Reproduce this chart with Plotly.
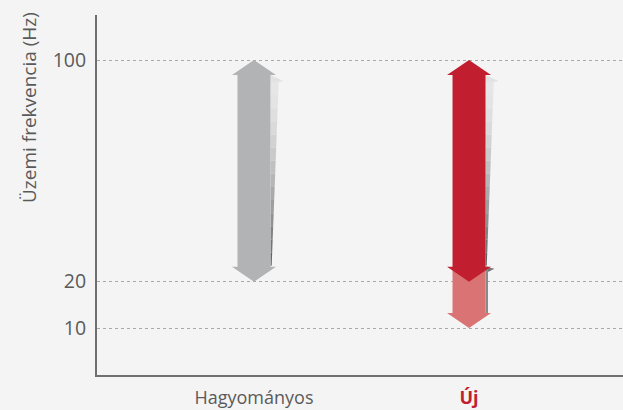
import plotly.graph_objects as go

# Operating frequency ranges (Hz)
categories = ["Hagyományos", "Új"]
range_low = [20, 10]        # lowest operating frequency
range_high = [100, 100]     # highest operating frequency
split_value = 20            # upper part of the new range shown in dark red
tick_values = [10, 20, 100]
tick_labels = ["10", "20", "100"]

GREY = "#b2b3b5"
RED = "#c11f2f"
LIGHT_RED = "#da7373"
BG = "#f4f4f4"
TEXT = "#5a5a5a"


def t(v):
    """Compressed frequency scale used on the vertical axis."""
    return v ** 0.6


# Axis geometry (x in category units, y in scaled units)
X_RANGE = [-0.730, 1.716]
Y_RANGE = [1.900, 17.842]
PX_X = 526 / (X_RANGE[1] - X_RANGE[0])
PX_Y = 360 / (Y_RANGE[1] - Y_RANGE[0])

HEAD_H = 15 / PX_Y
SHAFT_HW = 16.5 / PX_X
HEAD_HW = 22 / PX_X


def double_arrow(c, lo, hi):
    xs = [c, c + HEAD_HW, c + SHAFT_HW, c + SHAFT_HW, c + HEAD_HW, c,
          c - HEAD_HW, c - SHAFT_HW, c - SHAFT_HW, c - HEAD_HW, c]
    ys = [hi, hi - HEAD_H, hi - HEAD_H, lo + HEAD_H, lo + HEAD_H, lo,
          lo + HEAD_H, lo + HEAD_H, hi - HEAD_H, hi - HEAD_H, hi]
    return xs, ys


def down_arrow(c, top, lo):
    xs = [c - SHAFT_HW, c + SHAFT_HW, c + SHAFT_HW, c + HEAD_HW, c,
          c - HEAD_HW, c - SHAFT_HW, c - SHAFT_HW]
    ys = [top, top, lo + HEAD_H, lo + HEAD_H, lo, lo + HEAD_H, lo + HEAD_H, top]
    return xs, ys


def poly(xs, ys, color):
    return go.Scatter(x=xs, y=ys, mode="lines", fill="toself", fillcolor=color,
                      line=dict(width=0), hoverinfo="skip", showlegend=False)


def shade(level):
    v = int(round(level))
    return f"rgb({v},{v},{v})"


def shadow(c, hi, lo_edge):
    """Tapered side shading to the right of an arrow shaft."""
    traces = []
    x0 = c + SHAFT_HW
    top = hi - HEAD_H
    # ledge under the right wing of the head
    traces.append(poly([x0, x0 + 13 / PX_X, x0 + 7 / PX_X, x0, x0],
                       [top, top - 6 / PX_Y, top - 7 / PX_Y, top - 7 / PX_Y, top],
                       "#e2e2e2"))
    start = top - 7 / PX_Y
    n = 14
    w0 = 7 / PX_X
    for i in range(n):
        ya = start - (start - lo_edge) * i / n
        yb = start - (start - lo_edge) * (i + 1) / n
        wa = w0 * (1 - i / n) + 1.2 / PX_X
        wb = w0 * (1 - (i + 1) / n) + 1.2 / PX_X
        col = shade(230 - 130 * (i / (n - 1)) ** 1.6)
        traces.append(poly([x0, x0 + wa, x0 + wb, x0, x0],
                           [ya, ya, yb, yb, ya], col))
    return traces


fig = go.Figure()

# Conventional range: grey double arrow
c0 = 0
hi0, lo0 = t(range_high[0]), t(range_low[0])
for tr in shadow(c0, hi0, lo0 + HEAD_H + 1 / PX_Y):
    fig.add_trace(tr)
fig.add_trace(poly(*double_arrow(c0, lo0, hi0), GREY))

# New range: dark red upper part plus light red extension down to the minimum
c1 = 1
hi1, mid1, lo1 = t(range_high[1]), t(split_value), t(range_low[1])
for tr in shadow(c1, hi1, mid1 + HEAD_H + 1 / PX_Y):
    fig.add_trace(tr)
# small ledge and edge line beside the extension
x_edge = c1 + SHAFT_HW
fig.add_trace(poly([x_edge, x_edge + 9 / PX_X, x_edge + 3 / PX_X, x_edge, x_edge],
                   [mid1 + HEAD_H, mid1 + HEAD_H - 2 / PX_Y, mid1 + HEAD_H - 5 / PX_Y,
                    mid1 + HEAD_H - 5 / PX_Y, mid1 + HEAD_H], "#777777"))
fig.add_trace(poly([x_edge, x_edge + 2.5 / PX_X, x_edge + 2.5 / PX_X, x_edge, x_edge],
                   [mid1 + HEAD_H, mid1 + HEAD_H, lo1 + HEAD_H, lo1 + HEAD_H,
                    mid1 + HEAD_H], "#8a8a8a"))
fig.add_trace(poly(*down_arrow(c1, mid1 + HEAD_H, lo1), LIGHT_RED))
fig.add_trace(poly(*double_arrow(c1, mid1, hi1), RED))

fig.update_layout(
    width=623, height=410,
    margin=dict(l=97, r=0, t=15, b=35),
    paper_bgcolor=BG, plot_bgcolor=BG,
    font=dict(family="Open Sans", color=TEXT),
    showlegend=False,
    xaxis=dict(
        range=X_RANGE, showgrid=False, zeroline=False, automargin=False,
        tickmode="array", tickvals=[0, 1],
        ticktext=[categories[0],
                  f"<b><span style='color:{RED}'>{categories[1]}</span></b>"],
        ticks="", ticklabelstandoff=5,
        tickfont=dict(size=18, color=TEXT),
        showline=True, linecolor="#6f6f6f", linewidth=2,
    ),
    yaxis=dict(
        range=Y_RANGE, zeroline=False, automargin=False,
        tickmode="array", tickvals=[t(v) for v in tick_values],
        ticktext=tick_labels,
        ticks="", ticklabelstandoff=5,
        tickfont=dict(size=19.5, color=TEXT),
        showgrid=True, gridcolor="#a9a9a9", gridwidth=1, griddash="dot",
        showline=True, linecolor="#6f6f6f", linewidth=2,
    ),
    annotations=[dict(
        text="Üzemi frekvencia (Hz)", textangle=-90,
        xref="paper", yref="paper", x=(29 - 97) / 526, y=(375 - 108) / 360,
        xanchor="center", yanchor="middle", showarrow=False,
        font=dict(size=19, color=TEXT),
    )],
)

fig.write_html("out.html")
